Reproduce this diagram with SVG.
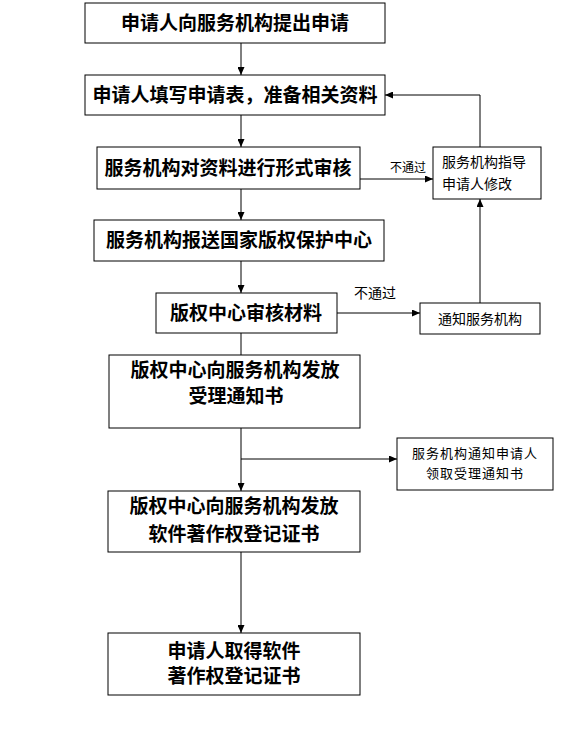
<svg xmlns="http://www.w3.org/2000/svg" width="579" height="731" viewBox="0 0 579 731">
<style>
.box{fill:#fff;stroke:#000;stroke-width:1}
.big{font-family:"Noto Sans CJK SC","Liberation Sans",sans-serif;font-weight:bold;font-size:19px;text-anchor:middle;fill:#000}
.sm{font-family:"Noto Sans CJK SC","Liberation Sans",sans-serif;font-size:14px;fill:#000}
.c{text-anchor:middle}
.ln{fill:none;stroke:#000;stroke-width:1}
</style>
<defs>
<marker id="ah" markerUnits="userSpaceOnUse" markerWidth="8" markerHeight="7" refX="8" refY="3.5" orient="auto">
<path d="M0,0 L8,3.5 L0,7 z" fill="#000"/>
</marker>
</defs>
<rect width="579" height="731" fill="#fff"/>
<g id="connectors">
<line class="ln" x1="241" y1="43" x2="241" y2="75" marker-end="url(#ah)"/>
<line class="ln" x1="241" y1="115" x2="241" y2="147" marker-end="url(#ah)"/>
<line class="ln" x1="241" y1="189" x2="241" y2="220" marker-end="url(#ah)"/>
<line class="ln" x1="241" y1="261" x2="241" y2="293" marker-end="url(#ah)"/>
<line class="ln" x1="241" y1="333" x2="241" y2="355"/>
<line class="ln" x1="241" y1="428" x2="241" y2="491" marker-end="url(#ah)"/>
<line class="ln" x1="241" y1="459" x2="397" y2="459" marker-end="url(#ah)"/>
<line class="ln" x1="241" y1="552" x2="241" y2="633" marker-end="url(#ah)"/>
<line class="ln" x1="360" y1="179" x2="433" y2="179" marker-end="url(#ah)"/>
<text class="sm c" x="408" y="172" style="font-size:12px">不通过</text>
<line class="ln" x1="337" y1="313" x2="420" y2="313" marker-end="url(#ah)"/>
<text class="sm c" x="375" y="298">不通过</text>
<line class="ln" x1="480" y1="303" x2="480" y2="199" marker-end="url(#ah)"/>
<polyline class="ln" points="480,147 480,95 385,95" marker-end="url(#ah)"/>
</g>
<g id="n1"><rect class="box" x="85" y="3" width="300" height="40"/><text class="big" x="235" y="30">申请人向服务机构提出申请</text></g>
<g id="n2"><rect class="box" x="85" y="75" width="300" height="40"/><text class="big" x="235" y="102">申请人填写申请表，准备相关资料</text></g>
<g id="n3"><rect class="box" x="97" y="147" width="263" height="42"/><text class="big" x="228" y="175">服务机构对资料进行形式审核</text></g>
<g id="n4"><rect class="box" x="94" y="220" width="290" height="41"/><text class="big" x="239" y="247">服务机构报送国家版权保护中心</text></g>
<g id="n5"><rect class="box" x="156" y="293" width="181" height="40"/><text class="big" x="246" y="320">版权中心审核材料</text></g>
<g id="n6"><rect class="box" x="109" y="355" width="251" height="73"/><text class="big" x="235" y="377">版权中心向服务机构发放</text><text class="big" x="236" y="403">受理通知书</text></g>
<g id="n7"><rect class="box" x="108" y="491" width="252" height="61"/><text class="big" x="234" y="513">版权中心向服务机构发放</text><text class="big" x="234" y="541">软件著作权登记证书</text></g>
<g id="n8"><rect class="box" x="108" y="633" width="252" height="62"/><text class="big" x="234" y="658">申请人取得软件</text><text class="big" x="234" y="683">著作权登记证书</text></g>
<g id="s1"><rect class="box" x="433" y="147" width="108" height="52"/><text class="sm" x="442" y="167">服务机构指导</text><text class="sm" x="442" y="189">申请人修改</text></g>
<g id="s2"><rect class="box" x="420" y="303" width="120" height="31"/><text class="sm c" x="480" y="324">通知服务机构</text></g>
<g id="s3"><rect class="box" x="397" y="438" width="156" height="52"/><text class="sm c" x="475" y="458" style="font-size:13px;letter-spacing:1px">服务机构通知申请人</text><text class="sm c" x="475" y="478" style="font-size:13px;letter-spacing:1px">领取受理通知书</text></g>
</svg>
